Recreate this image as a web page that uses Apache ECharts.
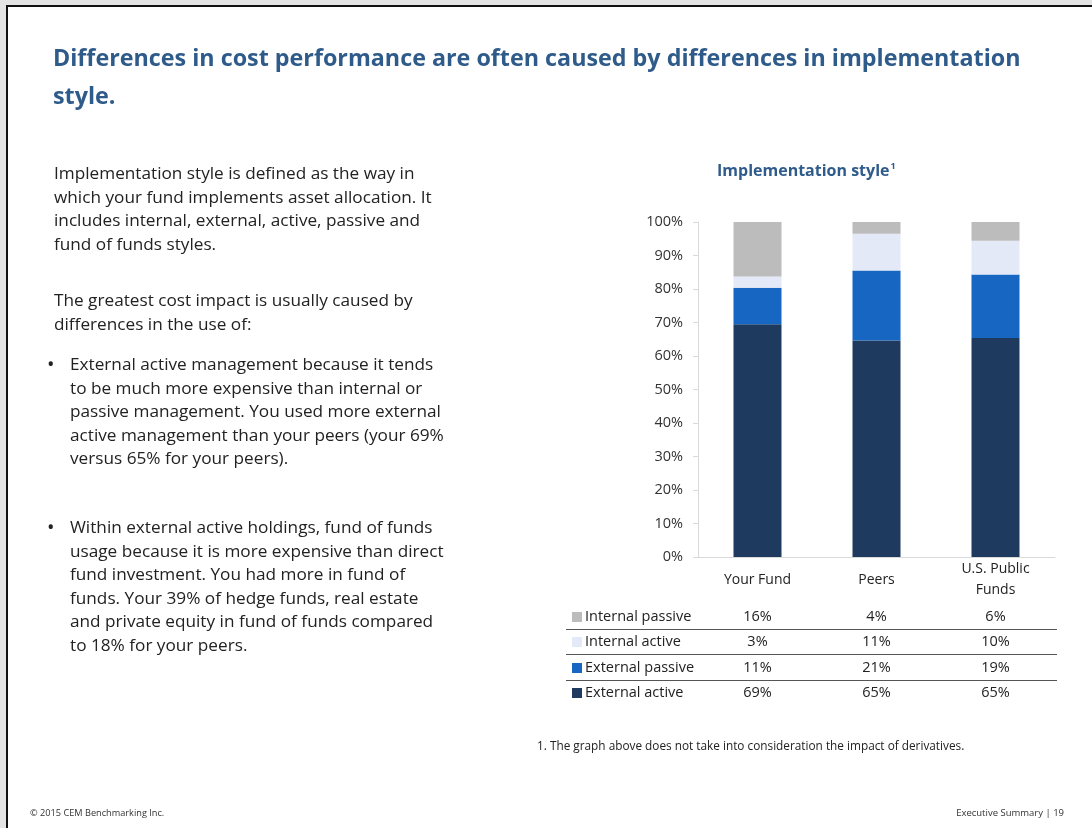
<!DOCTYPE html>
<html>
<head>
<meta charset="utf-8">
<script src="https://cdn.jsdelivr.net/npm/echarts@6/dist/echarts.min.js"></script>
<style>
  html, body { margin: 0; padding: 0; background: #e4e4e4; }
  #slide { position: relative; width: 1092px; height: 828px; overflow: hidden; }
  #paper { position: absolute; left: 6px; top: 5px; width: 1100px; height: 840px; background: #fff;
           border-left: 2px solid #111; border-top: 2px solid #111; }
  #chart { position: absolute; left: 0; top: 0; width: 1092px; height: 828px; }
  .txt { position: absolute; font-family: "Open Sans", sans-serif; color: #222; white-space: nowrap; }
  .title { left: 53px; top: 38px; font-size: 23.3px; line-height: 38px; font-weight: bold; color: #2f5b8b; }
  .body { left: 54px; font-size: 17.2px; line-height: 23.5px; }
  .bul { left: 47px; font-size: 17.2px; line-height: 23.5px; }
  .bul span.dot { position: absolute; left: 0; font-size: 20px; }
  .bul div { padding-left: 23px; }
  .foot { font-size: 9.2px; top: 806px; color: #333; }
  .row { position: absolute; left: 566px; width: 491px; height: 25px; font-family: "Open Sans", sans-serif; font-size: 14.5px; color: #222; }
  .row .sw { position: absolute; left: 6px; top: 8px; width: 10px; height: 10px; }
  .row .lb { position: absolute; left: 19px; top: 2px; }
  .row .v { position: absolute; top: 2px; width: 60px; margin-left: -30px; text-align: center; }
  .sep { position: absolute; left: 566px; width: 491px; height: 0; border-top: 1.5px solid #555; }
</style>
</head>
<body>
<div id="slide">
  <div id="paper"></div>
  <div id="chart"></div>
  <div class="txt title">Differences in cost performance are often caused by differences in implementation<br>style.</div>
  <div class="txt body" style="top:161px">Implementation style is defined as the way in<br>which your fund implements asset allocation. It<br>includes internal, external, active, passive and<br>fund of funds styles.</div>
  <div class="txt body" style="top:288px">The greatest cost impact is usually caused by<br>differences in the use of:</div>
  <div class="txt bul" style="top:352px"><span class="dot">•</span><div>External active management because it tends<br>to be much more expensive than internal or<br>passive management. You used more external<br>active management than your peers (your 69%<br>versus 65% for your peers).</div></div>
  <div class="txt bul" style="top:515px"><span class="dot">•</span><div>Within external active holdings, fund of funds<br>usage because it is more expensive than direct<br>fund investment. You had more in fund of<br>funds. Your 39% of hedge funds, real estate<br>and private equity in fund of funds compared<br>to 18% for your peers.</div></div>
  <div class="txt" style="left:537px;top:737px;font-size:11.8px;">1. The graph above does not take into consideration the impact of derivatives.</div>
  <div class="txt foot" style="left:30px">© 2015 CEM Benchmarking Inc.</div>
  <div class="txt foot" style="right:28px;font-size:9.5px">Executive Summary | 19</div>
  <div id="table"></div>
</div>
<script>
// categories and style names
var categories = ["Your Fund", "Peers", "U.S. Public\nFunds"];
var styleNames = ["External active", "External passive", "Internal active", "Internal passive"];
var styleColors = ["#1f3a5f", "#1766c2", "#e3e9f7", "#bcbcbc"];

// bar heights (%)
var externalActive = [69.5, 64.6, 65.4];
var externalPassive = [10.9, 20.9, 18.9];
var internalActive = [3.3, 11.0, 10.1];
var internalPassive = [16.3, 3.5, 5.6];

// rounded figures printed in the table under the chart
var tableExternalActive = ["69%", "65%", "65%"];
var tableExternalPassive = ["11%", "21%", "19%"];
var tableInternalActive = ["3%", "11%", "10%"];
var tableInternalPassive = ["16%", "4%", "6%"];

var yTicks = [0, 100, 10];

var chart = echarts.init(document.getElementById("chart"));

var seriesData = [externalActive, externalPassive, internalActive, internalPassive];
var series = [];
for (var i = 0; i < styleNames.length; i++) {
  series.push({
    name: styleNames[i],
    type: "bar",
    stack: "total",
    barWidth: 48,
    itemStyle: { color: styleColors[i] },
    data: seriesData[i]
  });
}

chart.setOption({
  animation: false,
  grid: { left: 698, top: 222, width: 357, height: 335 },
  graphic: [{
    type: "text",
    left: 717,
    top: 162,
    style: {
      text: "{a|Implementation style}{s|1}",
      rich: {
        a: { fontFamily: "Open Sans", fontSize: 16, fontWeight: "bold", fill: "#2f5b8b" },
        s: { fontFamily: "Open Sans", fontSize: 9, fontWeight: "bold", fill: "#2f5b8b", verticalAlign: "top", padding: [0, 0, 9, 1] }
      }
    }
  }],
  xAxis: {
    type: "category",
    data: categories,
    axisLine: { lineStyle: { color: "#d9d9d9", width: 1 } },
    axisTick: { show: false },
    axisLabel: {
      color: "#222",
      fontFamily: "Open Sans",
      fontSize: 14,
      lineHeight: 21,
      margin: 23,
      verticalAlign: "middle"
    }
  },
  yAxis: {
    type: "value",
    min: yTicks[0],
    max: yTicks[1],
    interval: yTicks[2],
    axisLine: { show: true, lineStyle: { color: "#d9d9d9" } },
    axisTick: { show: true, length: 5, lineStyle: { color: "#d9d9d9" } },
    splitLine: { show: false },
    axisLabel: {
      formatter: "{value}%",
      color: "#333",
      fontFamily: "Open Sans",
      fontSize: 14.5,
      margin: 15
    }
  },
  series: series
});

// table under the chart, columns follow the category centres
var tableRows = [
  [styleNames[3], styleColors[3], tableInternalPassive],
  [styleNames[2], styleColors[2], tableInternalActive],
  [styleNames[1], styleColors[1], tableExternalPassive],
  [styleNames[0], styleColors[0], tableExternalActive]
];
var colX = categories.map(function (c, i) {
  return chart.convertToPixel({ xAxisIndex: 0 }, i) - 566;
});
var html = "";
var rowTop = 604, rowStep = 25.4;
tableRows.forEach(function (r, k) {
  var top = rowTop + k * rowStep;
  html += '<div class="row" style="top:' + top + 'px">' +
    '<div class="sw" style="background:' + r[1] + '"></div>' +
    '<div class="lb">' + r[0] + '</div>';
  r[2].forEach(function (v, j) {
    html += '<div class="v" style="left:' + colX[j] + 'px">' + v + '</div>';
  });
  html += '</div>';
  if (k < tableRows.length - 1) {
    html += '<div class="sep" style="top:' + (top + 25) + 'px"></div>';
  }
});
document.getElementById("table").innerHTML = html;
</script>
</body>
</html>
